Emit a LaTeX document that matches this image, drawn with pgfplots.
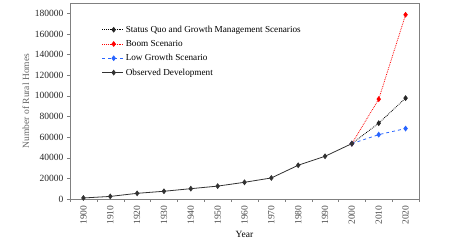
\documentclass[border=0pt]{standalone}
\usepackage{pgfplots}
\pgfplotsset{compat=1.18}
\usepackage{fontspec}
\setmainfont{Liberation Serif}
\definecolor{frame}{RGB}{128,128,128}
\definecolor{obs}{RGB}{50,50,50}
\definecolor{lowblue}{RGB}{40,100,255}
\begin{document}
\begin{tikzpicture}
\begin{axis}[
  at={(0,0)}, anchor=south west,
  scale only axis, width=349pt, height=196pt,
  xmin=-0.5, xmax=12.5, ymin=0, ymax=190000,
  axis line style={frame},
  tick style={frame},
  tick align=outside,
  xtick={0,...,12},
  xticklabels={1900,1910,1920,1930,1940,1950,1960,1970,1980,1990,2000,2010,2020},
  major x tick style={draw=none},
  minor xtick={-0.5,0.5,...,12.5},
  minor tick length=3pt,
  xticklabel style={rotate=90, anchor=east, font=\fontsize{9.5}{10}\selectfont, text=black!70},
  ytick={0,20000,...,180000},
  major tick length=3pt,
  yticklabel style={font=\fontsize{9.5}{10}\selectfont, text=black!85},
  scaled y ticks=false,
  yticklabel={\pgfmathprintnumber[fixed,precision=0,1000 sep={},assume math mode=true]{\tick}},
  xtick pos=bottom, ytick pos=left,
  xlabel={Year}, ylabel={Number of Rural Homes},
  xlabel style={font=\fontsize{9.5}{10}\selectfont, yshift=0pt},
  ylabel style={font=\fontsize{9.5}{10}\selectfont, text=black!60, yshift=-1pt},
  legend style={at={(0.088,0.905)}, anchor=north west, draw=none, fill=none,
    font=\fontsize{9.2}{10}\selectfont, row sep=2.5pt, inner xsep=1pt},
  legend cell align=left,
  legend image code/.code={\draw[#1] (0cm,0cm) -- (0.74cm,0cm); \draw[#1, solid] plot coordinates {(0.4cm,0cm)};},
]
\addplot[black, densely dotted, thick, mark=diamond*, mark size=2.3pt, mark options={solid, fill=black!85, draw=black!85}]
  coordinates {(10,53700) (11,73500) (12,97800)};
\addlegendentry{Status Quo and Growth Management Scenarios}
\addplot[red, densely dotted, thick, mark=diamond*, mark size=2.3pt, mark options={solid, fill=red, draw=red}]
  coordinates {(10,53700) (11,96800) (12,178600)};
\addlegendentry{Boom Scenario}
\addplot[lowblue, dashed, thick, mark=diamond*, mark size=2.3pt, mark options={solid, fill=lowblue, draw=lowblue}]
  coordinates {(10,53700) (11,62400) (12,68300)};
\addlegendentry{Low Growth Scenario}
\addplot[obs, solid, thick, mark=diamond*, mark size=2.3pt, mark options={solid, fill=obs, draw=obs}]
  coordinates {(0,1000) (1,2500) (2,5500) (3,7500) (4,10000) (5,12500) (6,16200) (7,20400) (8,32700) (9,41400) (10,53700)};
\addlegendentry{Observed Development}
\end{axis}
\pgfresetboundingbox
\path[use as bounding box] (-70pt,-44pt) rectangle (380pt,199pt);
\end{tikzpicture}
\end{document}
